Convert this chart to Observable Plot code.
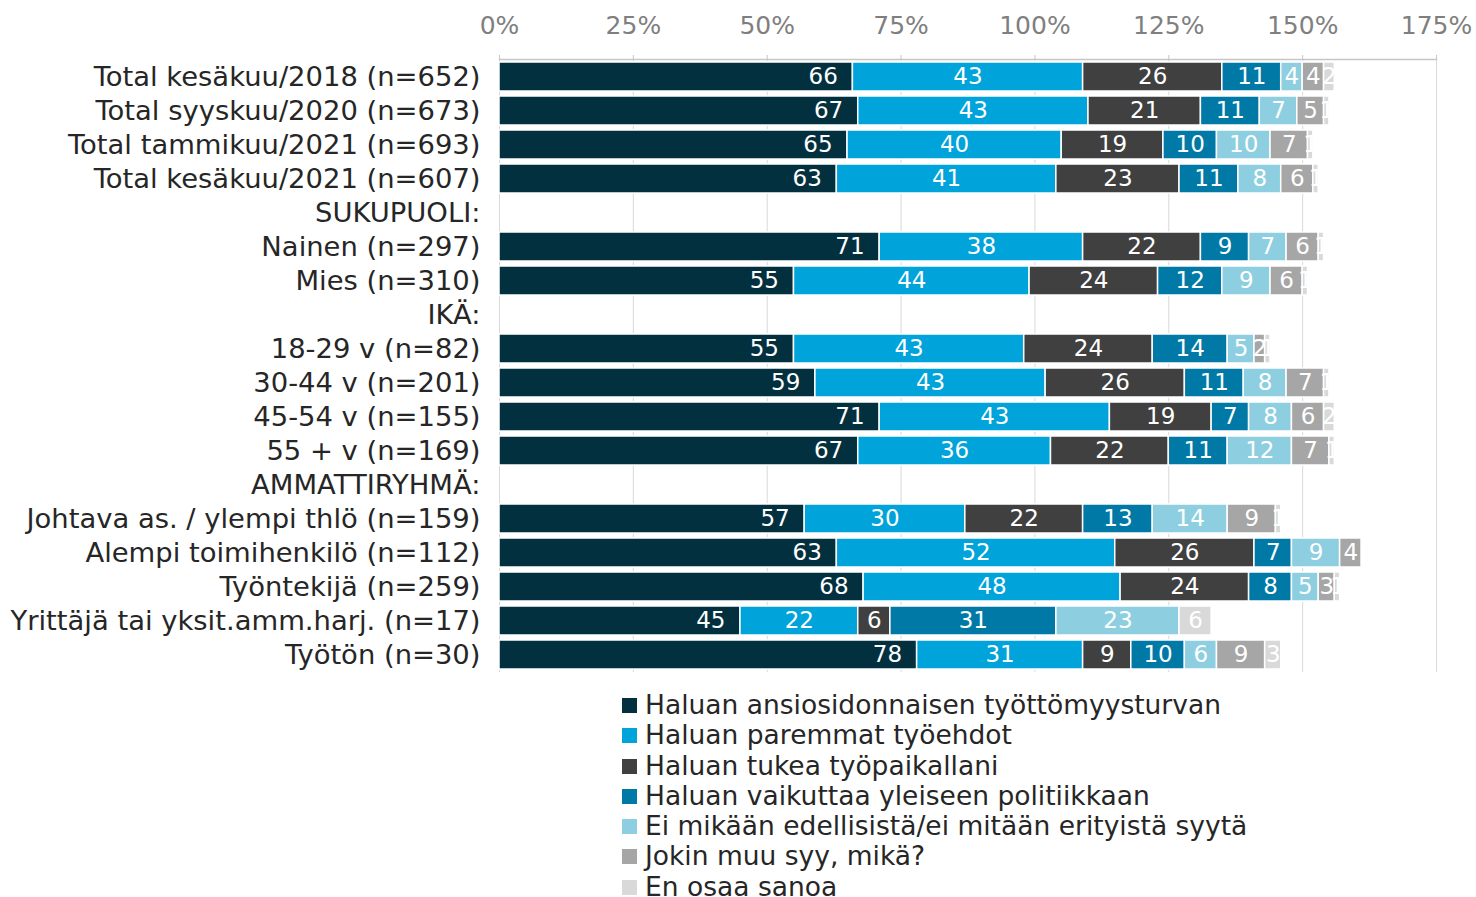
<!DOCTYPE html>
<html>
<head>
<meta charset="utf-8">
<script src="https://cdn.jsdelivr.net/npm/d3@7"></script>
<script src="https://cdn.jsdelivr.net/npm/@observablehq/plot@0.6"></script>
<style>
  body { margin: 0; background: #fff; font-family: "DejaVu Sans", Verdana, sans-serif; overflow: hidden; }
  #legend { padding: 15px 0 0 622px; }
  .item { height: 20px; line-height: 20px; margin-bottom: 10.3px; font-size: 26.5px; color: #262626; white-space: nowrap; }
  .sw { display: inline-block; width: 15px; height: 15px; margin-right: 8px; vertical-align: 1px; }
</style>
</head>
<body>
<div id="chart"></div>
<div id="legend"></div>
<script>
const categories = [
  "Total kesäkuu/2018 (n=652)",
  "Total syyskuu/2020 (n=673)",
  "Total tammikuu/2021 (n=693)",
  "Total kesäkuu/2021 (n=607)",
  "SUKUPUOLI:",
  "Nainen (n=297)",
  "Mies (n=310)",
  "IKÄ:",
  "18-29 v (n=82)",
  "30-44 v (n=201)",
  "45-54 v (n=155)",
  "55 + v (n=169)",
  "AMMATTIRYHMÄ:",
  "Johtava as. / ylempi thlö (n=159)",
  "Alempi toimihenkilö (n=112)",
  "Työntekijä (n=259)",
  "Yrittäjä tai yksit.amm.harj. (n=17)",
  "Työtön (n=30)"
];
const series = [
  "Haluan ansiosidonnaisen työttömyysturvan",
  "Haluan paremmat työehdot",
  "Haluan tukea työpaikallani",
  "Haluan vaikuttaa yleiseen politiikkaan",
  "Ei mikään edellisistä/ei mitään erityistä syytä",
  "Jokin muu syy, mikä?",
  "En osaa sanoa"
];
const colors = ["#03303f", "#00a3da", "#404040", "#0079a6", "#8dcfe0", "#a6a6a6", "#d9d9d9"];
// values per series, aligned with categories (null = header row)
const s1 = [66, 67, 65, 63, null, 71, 55, null, 55, 59, 71, 67, null, 57, 63, 68, 45, 78];
const s2 = [43, 43, 40, 41, null, 38, 44, null, 43, 43, 43, 36, null, 30, 52, 48, 22, 31];
const s3 = [26, 21, 19, 23, null, 22, 24, null, 24, 26, 19, 22, null, 22, 26, 24, 6, 9];
const s4 = [11, 11, 10, 11, null, 9, 12, null, 14, 11, 7, 11, null, 13, 7, 8, 31, 10];
const s5 = [4, 7, 10, 8, null, 7, 9, null, 5, 8, 8, 12, null, 14, 9, 5, 23, 6];
const s6 = [4, 5, 7, 6, null, 6, 6, null, 2, 7, 6, 7, null, 9, 4, 3, 0, 9];
const s7 = [2, 1, 1, 1, null, 1, 1, null, 1, 1, 2, 1, null, 1, 0, 1, 6, 3];
const xTicks = [0, 25, 50, 75, 100, 125, 150, 175];

const allSeries = [s1, s2, s3, s4, s5, s6, s7];
const data = [];
categories.forEach((c, i) => {
  allSeries.forEach((s, j) => {
    if (s[i] != null && s[i] > 0) data.push({cat: c, series: series[j], value: s[i]});
  });
});
const firstData = data.filter(d => d.series === series[0]);

const chart = Plot.plot({
  width: 1476,
  height: 680,
  marginLeft: 499,
  marginRight: 40,
  marginTop: 59,
  marginBottom: 8,
  style: {fontFamily: "DejaVu Sans, Verdana, sans-serif", background: "#fff"},
  x: {domain: [0, 175]},
  y: {domain: categories, paddingInner: 0.149, paddingOuter: 0.075, align: 0.55},
  color: {domain: series, range: colors},
  marks: [
    Plot.gridX(xTicks, {stroke: "#d9d9d9", strokeOpacity: 1, strokeWidth: 1}),
    Plot.frame({anchor: "top", stroke: "#c6c6c6", strokeWidth: 1.5}),
    Plot.axisX(xTicks, {anchor: "top", tickSize: 5, stroke: "#c6c6c6", tickPadding: 21,
      tickFormat: d => d + "%", fontSize: 25, fill: "#7f7f7f", label: null}),
    Plot.axisY({tickSize: 0, tickPadding: 19, fontSize: 27.4, fill: "#262626", label: null}),
    Plot.barX(data, Plot.stackX({x: "value", y: "cat", fill: "series", order: series,
      stroke: "white", strokeWidth: 1.5})),
    Plot.text(data, Plot.stackX({x: "value", y: "cat", z: "series", order: series,
      text: d => d.series === series[0] ? "" : String(d.value), fill: "white", fontSize: 23})),
    Plot.text(firstData, {x: "value", y: "cat", text: d => String(d.value), fill: "white",
      fontSize: 23, textAnchor: "end", dx: -15})
  ]
});
document.getElementById("chart").appendChild(chart);

const legend = document.getElementById("legend");
series.forEach((s, i) => {
  const div = document.createElement("div");
  div.className = "item";
  const sw = document.createElement("span");
  sw.className = "sw";
  sw.style.background = colors[i];
  div.appendChild(sw);
  div.appendChild(document.createTextNode(s));
  legend.appendChild(div);
});
</script>
</body>
</html>
